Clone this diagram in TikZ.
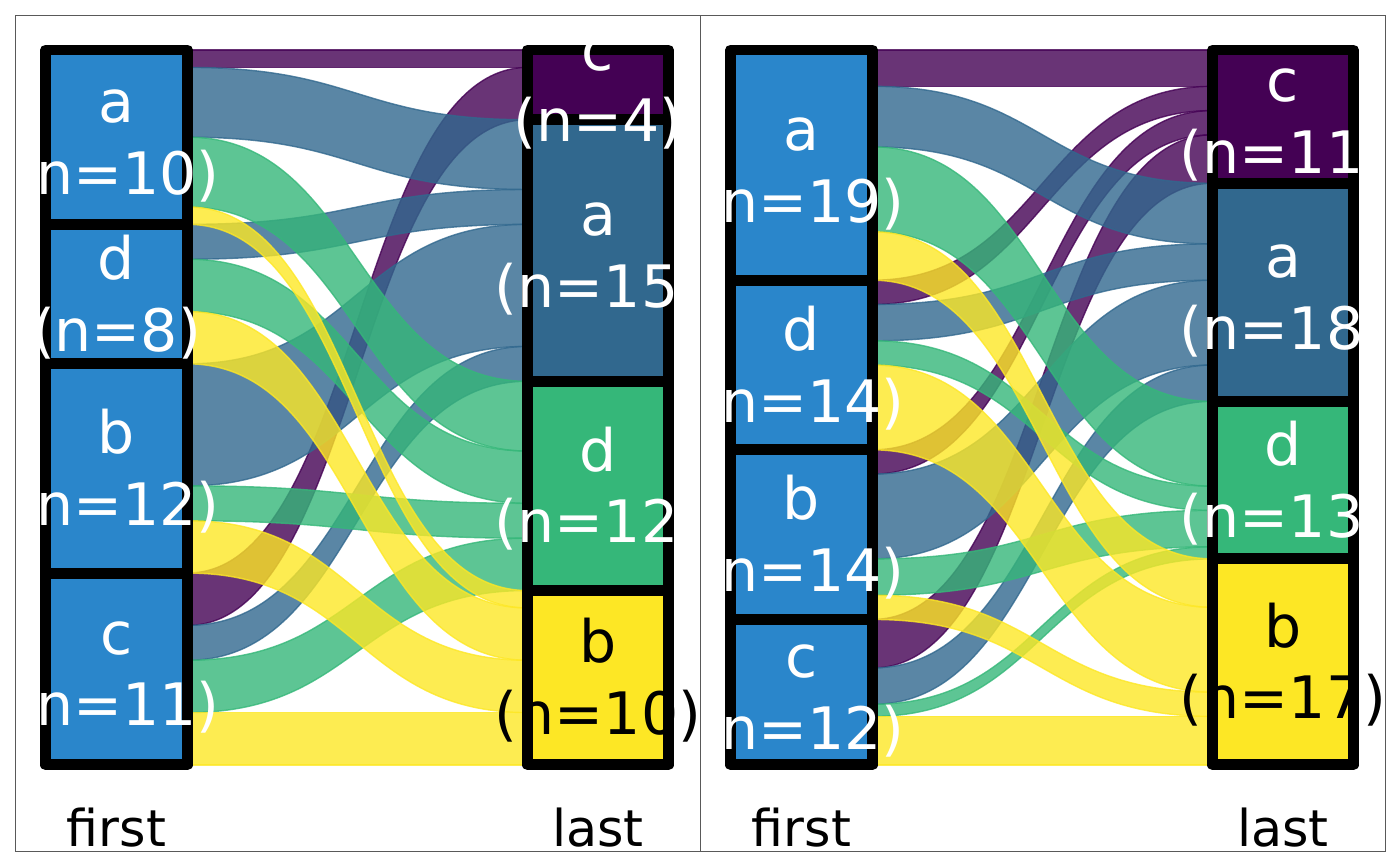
\documentclass[tikz,border=0pt]{standalone}
\usepackage{fontspec}
\setmainfont{DejaVu Sans}
\usepackage{tikz}

\definecolor{vc}{HTML}{440154}
\definecolor{va}{HTML}{31688E}
\definecolor{vd}{HTML}{35B779}
\definecolor{vb}{HTML}{FDE725}
\definecolor{srcblue}{HTML}{2A86CB}

\tikzset{
  box/.style={draw=black, line width=6.2pt, line join=round},
  flow/.style={fill=#1, draw=#1, opacity=.8, line width=.8pt},
  lbl/.style={text=white, align=center, anchor=base, yshift=-1.14cm, font=\fontsize{33.3}{40.8}\selectfont},
  axlbl/.style={anchor=base, font=\fontsize{28.9}{34}\selectfont},
  frame/.style={draw=black!65, line width=.5pt}
}

% band from a first box (top #1) to a last box (top #2), #3 units thick
\newcommand\flow[4]{\draw[flow=#4] (187.5,#1) .. controls (357.5,#1) and (357.5,#2) .. (527.5,#2) -- (527.5,#2+#3) .. controls (357.5,#2+#3) and (357.5,#1+#3) .. (187.5,#1+#3) -- cycle;}

\begin{document}
\begin{tikzpicture}[x=0.02cm, y=-0.02cm]
   \useasboundingbox (0,0) rectangle (1400,866);

   \begin{scope}[yshift=-1cm, y=-0.34878cm]
   \flow{0}{0}{1}{vc} \flow{30}{1}{3}{vc}
   \flow{1}{4}{4}{va} \flow{10}{8}{2}{va} \flow{18}{10}{7}{va} \flow{33}{17}{2}{va}
   \flow{5}{19}{4}{vd} \flow{12}{23}{3}{vd} \flow{25}{26}{2}{vd} \flow{35}{28}{3}{vd}
   \flow{9}{31}{1}{vb} \flow{15}{32}{3}{vb} \flow{27}{35}{3}{vb} \flow{38}{38}{3}{vb}

   \draw[box, fill=srcblue] (45.5,0) rectangle (187.5,10);
   \draw[box, fill=srcblue] (45.5,10) rectangle (187.5,18);
   \draw[box, fill=srcblue] (45.5,18) rectangle (187.5,30);
   \draw[box, fill=srcblue] (45.5,30) rectangle (187.5,41);
   \draw[box, fill=vc] (527.5,0) rectangle (668.5,4);
   \draw[box, fill=va] (527.5,4) rectangle (668.5,19);
   \draw[box, fill=vd] (527.5,19) rectangle (668.5,31);
   \draw[box, fill=vb] (527.5,31) rectangle (668.5,41);

   \node[lbl] (fa1) at (116.5,5) {a\\(n=10)};
   \node[lbl] (fd1) at (116.5,14) {d\\(n=8)};
   \node[lbl] (fb1) at (116.5,24) {b\\(n=12)};
   \node[lbl] (fc1) at (116.5,35.5) {c\\(n=11)};
   \node[lbl] (lc1) at (598,2) {c\\(n=4)};
   \node[lbl] (la1) at (598,11.5) {a\\(n=15)};
   \node[lbl] (ld1) at (598,25) {d\\(n=12)};
   \node[lbl, text=black] (lb1) at (598,36) {b\\(n=10)};
   \end{scope}

   \begin{scope}[shift={(685,0)}, yshift=-1cm, y=-0.242373cm]
   \flow{0}{0}{3}{vc} \flow{19}{3}{2}{vc} \flow{33}{5}{2}{vc} \flow{47}{7}{4}{vc}
   \flow{3}{11}{5}{va} \flow{21}{16}{3}{va} \flow{35}{19}{7}{va} \flow{51}{26}{3}{va}
   \flow{8}{29}{7}{vd} \flow{24}{36}{2}{vd} \flow{42}{38}{3}{vd} \flow{54}{41}{1}{vd}
   \flow{15}{42}{4}{vb} \flow{26}{46}{7}{vb} \flow{45}{53}{2}{vb} \flow{55}{55}{4}{vb}

   \draw[box, fill=srcblue] (45.5,0) rectangle (187.5,19);
   \draw[box, fill=srcblue] (45.5,19) rectangle (187.5,33);
   \draw[box, fill=srcblue] (45.5,33) rectangle (187.5,47);
   \draw[box, fill=srcblue] (45.5,47) rectangle (187.5,59);
   \draw[box, fill=vc] (527.5,0) rectangle (668.5,11);
   \draw[box, fill=va] (527.5,11) rectangle (668.5,29);
   \draw[box, fill=vd] (527.5,29) rectangle (668.5,42);
   \draw[box, fill=vb] (527.5,42) rectangle (668.5,59);

   \node[lbl] (fa2) at (116.5,9.5) {a\\(n=19)};
   \node[lbl] (fd2) at (116.5,26) {d\\(n=14)};
   \node[lbl] (fb2) at (116.5,40) {b\\(n=14)};
   \node[lbl] (fc2) at (116.5,53) {c\\(n=12)};
   \node[lbl] (lc2) at (598,5.5) {c\\(n=11)};
   \node[lbl] (la2) at (598,20) {a\\(n=18)};
   \node[lbl] (ld2) at (598,35.5) {d\\(n=13)};
   \node[lbl, text=black] (lb2) at (598,50.5) {b\\(n=17)};
   \end{scope}

   \node[axlbl] (first1) at (116.5,846) {first};
   \node[axlbl] (last1) at (598,846) {last};
   \node[axlbl] (first2) at (801.5,846) {first};
   \node[axlbl] (last2) at (1283,846) {last};

   \draw[frame] (15,15) rectangle (700,851);
   \draw[frame] (700,15) rectangle (1385,851);
\end{tikzpicture}
\end{document}
